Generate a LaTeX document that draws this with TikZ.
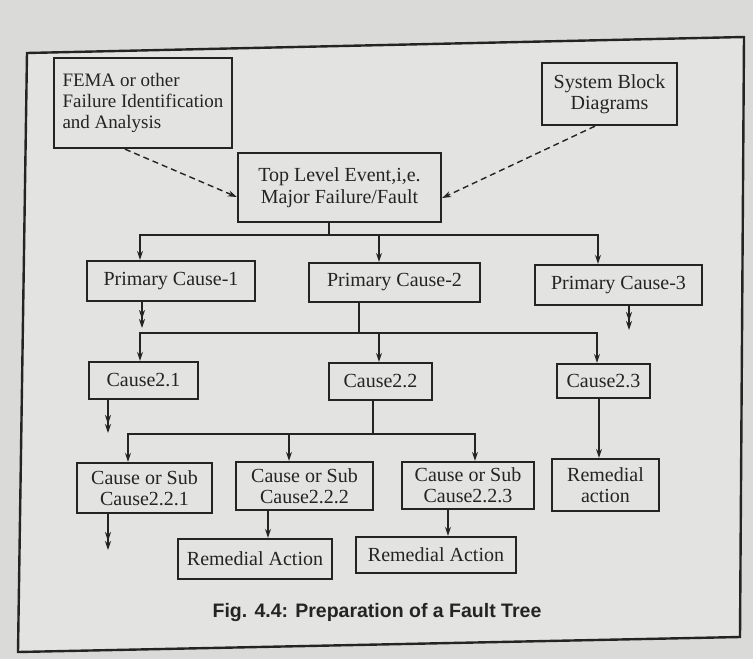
\documentclass[tikz,border=0pt]{standalone}
\usepackage{fontspec}
\setmainfont{Liberation Serif}
\newfontfamily\capfont{Liberation Sans}
\usetikzlibrary{arrows.meta}
\definecolor{paper}{HTML}{E3E3E1}
\definecolor{paperdark}{HTML}{DADAD8}
\definecolor{ink}{HTML}{242424}
\tikzset{
  box/.style={draw=ink, line width=2.3pt, text=ink, inner sep=0pt, align=center,
    font=\fontsize{20}{21}\selectfont},
  conn/.style={draw=ink, line width=1.4pt},
  arr/.style={conn, -{Stealth[length=9pt,width=6pt]}},
  darr/.style={conn, -{Stealth[length=9pt,width=6pt] Stealth[length=9pt,width=6pt]}},
  dasharr/.style={arr, dash pattern=on 6pt off 4pt},
}
\begin{document}
\begin{tikzpicture}[x=1pt,y=-1pt]
% page and frame
\fill[paperdark] (0,0) rectangle (753,659);
\useasboundingbox (0,0) rectangle (753,659);
\filldraw[fill=paper, draw=ink, line width=2.4pt]
  (27,53) -- (744,37) -- (740,637) -- (18,652) -- cycle;

% source boxes
\node[box, minimum width=178pt, minimum height=90pt, align=left,
  font=\fontsize{19}{21}\selectfont]
  (fema) at (143,103) {FEMA or other\\Failure Identification\\and Analysis};
\node[box, minimum width=135pt, minimum height=62pt] (sbd) at (609.5,94)
  {System Block\\Diagrams};

% top event
\node[box, minimum width=203pt, minimum height=69pt, font=\fontsize{20}{22}\selectfont]
  (top) at (339.5,187.5) {Top Level Event,i,e.\\Major Failure/Fault};

% primary causes
\node[box, minimum width=168pt, minimum height=40pt] (pc1) at (171,281) {Primary Cause-1};
\node[box, minimum width=171pt, minimum height=39pt] (pc2) at (394.5,282.5) {Primary Cause-2};
\node[box, minimum width=167pt, minimum height=40pt] (pc3) at (618.5,285) {Primary Cause-3};

% second level causes
\node[box, minimum width=109pt, minimum height=37pt] (c21) at (143.5,380.5) {Cause2.1};
\node[box, minimum width=103pt, minimum height=37pt] (c22) at (380.5,381.5) {Cause2.2};
\node[box, minimum width=93pt, minimum height=34pt] (c23) at (603.5,381) {Cause2.3};

% sub causes
\node[box, minimum width=135pt, minimum height=50pt] (s221) at (144.5,488) {Cause or Sub\\Cause2.2.1};
\node[box, minimum width=137pt, minimum height=48pt] (s222) at (304.5,486) {Cause or Sub\\Cause2.2.2};
\node[box, minimum width=132pt, minimum height=47pt] (s223) at (468,485.5) {Cause or Sub\\Cause2.2.3};
\node[box, minimum width=107pt, minimum height=52pt] (rar) at (605.5,485) {Remedial\\action};

% remedial actions
\node[box, minimum width=154pt, minimum height=40pt] (ra1) at (255,559) {Remedial Action};
\node[box, minimum width=160pt, minimum height=36pt] (ra2) at (436,555) {Remedial Action};

% caption
\node[text=ink, font=\capfont\bfseries\fontsize{19.5}{22}\selectfont] (cap) at (377,612)
  {Fig. 4.4: Preparation of a Fault Tree};

% dashed inputs to the top event
\draw[dasharr] (fema.south -| 125,0) -- (top.west |- 0,197);
\draw[dasharr] (sbd.south -| 595,0) -- (top.east |- 0,198);

% top event to primary causes
\coordinate (busA) at (329,235);
\draw[conn] (top.south -| busA) -- (busA);
\draw[arr] (busA) -| ([xshift=-31pt]pc1.north);
\draw[arr] (busA) -| ([xshift=-20.5pt]pc3.north);
\draw[arr] (busA -| 379,0) -- ([xshift=-15.5pt]pc2.north);

% open branches
\coordinate (e1) at (142,328);
\draw[darr] (pc1.south -| e1) -- (e1);
\coordinate (e3) at (629,330);
\draw[darr] (pc3.south -| e3) -- (e3);

% primary cause 2 to second level
\coordinate (busB) at (359,333);
\draw[conn] (pc2.south -| busB) -- (busB);
\draw[arr] (busB) -| ([xshift=-3.5pt]c21.north);
\draw[arr] (busB) -| ([xshift=-6.5pt]c23.north);
\draw[arr] (busB -| 379,0) -- ([xshift=-1.5pt]c22.north);

\coordinate (e21) at (108,433);
\draw[darr] (c21.south -| e21) -- (e21);

% cause 2.2 to sub causes
\coordinate (busC) at (373,434);
\draw[conn] (c22.south -| busC) -- (busC);
\draw[arr] (busC) -| ([xshift=-16.5pt]s221.north);
\draw[arr] (busC) -| ([xshift=7pt]s223.north);
\draw[arr] (busC -| 289,0) -- ([xshift=-15.5pt]s222.north);

% cause 2.3 to remedial action
\draw[arr] (c23.south -| 599,0) -- (rar.north -| 599,0);

% sub causes downwards
\coordinate (e221) at (108,550);
\draw[darr] (s221.south -| e221) -- (e221);
\draw[arr] (s222.south -| 268,0) -- (ra1.north -| 268,0);
\draw[arr] (s223.south -| 448,0) -- (ra2.north -| 448,0);
\end{tikzpicture}
\end{document}
